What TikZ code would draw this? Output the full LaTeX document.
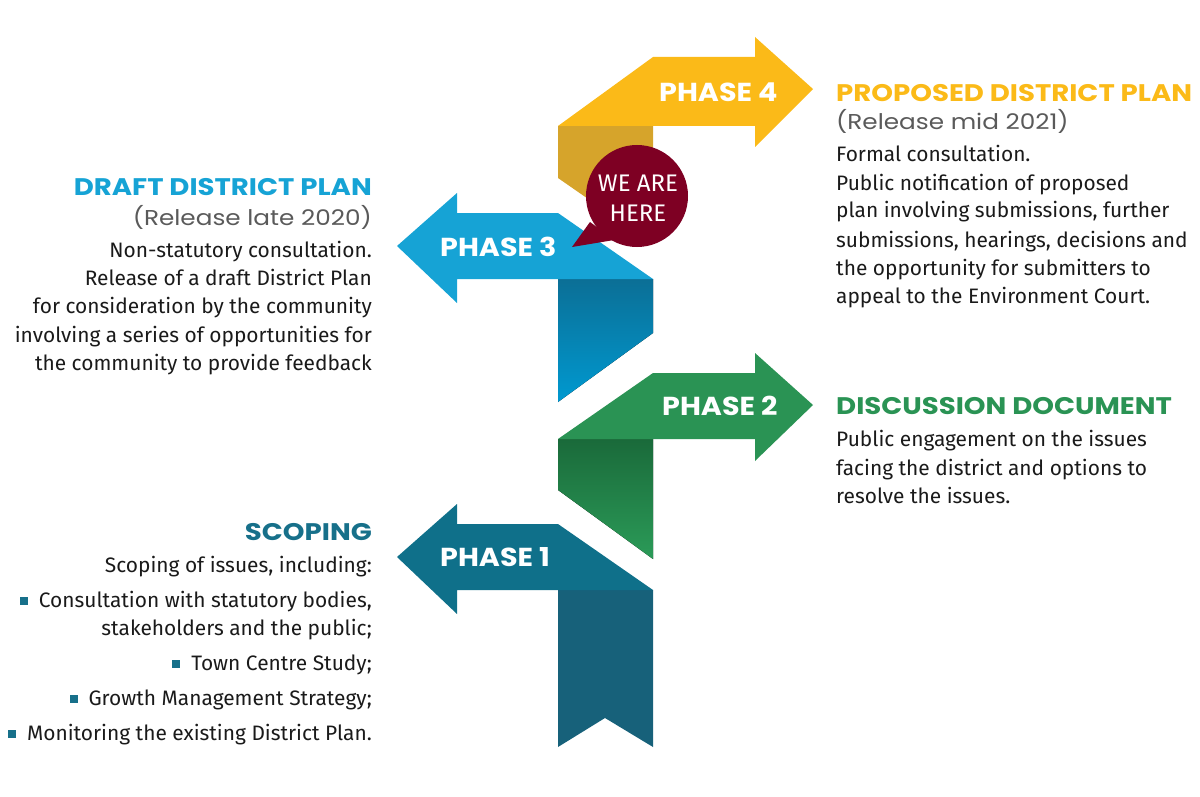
\documentclass[tikz,border=0pt]{standalone}
\usepackage{fontspec}
\setmainfont{Fira Sans}
\newfontfamily\headfont{Poppins}[FakeStretch=1.15]
\newfontfamily\phasefont{Poppins}[FakeStretch=1.1]
\definecolor{cyel}{HTML}{FBBA18}
\definecolor{cyeld}{HTML}{D6A42B}
\definecolor{cblue}{HTML}{16A3D5}
\definecolor{cbluetop}{HTML}{0B6F96}
\definecolor{cbluebot}{HTML}{0099D0}
\definecolor{cgreen}{HTML}{2A9354}
\definecolor{cgreentop}{HTML}{1A6A3A}
\definecolor{cgreenbot}{HTML}{2B9B58}
\definecolor{cteal}{HTML}{0F708A}
\definecolor{ctealhead}{HTML}{17708A}
\definecolor{ctealr}{HTML}{17617A}
\definecolor{cmaroon}{HTML}{7E0023}
\definecolor{cgray}{HTML}{5A5A5A}
\definecolor{cbody}{HTML}{1A1A1A}
\begin{document}
\begin{tikzpicture}[x=1pt,y=-1pt,
  heading/.style={inner sep=0pt,font=\headfont\bfseries\fontsize{24}{24}\selectfont},
  release/.style={inner sep=0pt,text=cgray,font=\headfont\fontsize{21.5}{21.5}\selectfont},
  body/.style={inner sep=0pt,text=cbody,font=\fontsize{20.9}{20.9}\selectfont},
  phaselbl/.style={inner sep=0pt,text=white,font=\phasefont\bfseries\fontsize{26}{26}\selectfont}]
\useasboundingbox (0,0) rectangle (1200,797);
\newcommand{\blt}{\textcolor{ctealhead}{\rule[2pt]{8pt}{8pt}}\hspace{11pt}}
% folds
\fill[cyeld] (558,126) -- (653,126) -- (653,244) -- (558,178) -- cycle;
\fill[top color=cbluetop,bottom color=cbluebot] (558,279) -- (653,279) -- (653,333) -- (558,402) -- cycle;
\fill[top color=cgreentop,bottom color=cgreenbot] (558,439) -- (653,439) -- (653,559) -- (558,490) -- cycle;
\fill[ctealr] (558,590) -- (653,590) -- (653,747) -- (605,718) -- (558,747) -- cycle;
% arrows
\fill[cyel] (813,89) -- (755,37) -- (755,57) -- (653,57) -- (558,126) -- (755,126) -- (755,147) -- cycle;
\fill[cblue] (397,246) -- (457,193) -- (457,213) -- (558,213) -- (653,279) -- (457,279) -- (457,303) -- cycle;
\fill[cgreen] (813,405) -- (755,353) -- (755,373) -- (653,373) -- (558,439) -- (755,439) -- (755,461) -- cycle;
\fill[cteal] (397,557) -- (457,504) -- (457,524) -- (558,524) -- (653,590) -- (457,590) -- (457,614) -- cycle;
% phase labels
\node[phaselbl,anchor=base west] (p4) at (659,102) {PHASE 4};
\node[phaselbl,anchor=base west] (p3) at (440,256) {PHASE 3};
\node[phaselbl,anchor=base west] (p2) at (662,415) {PHASE 2};
\node[phaselbl,anchor=base west] (p1) at (440,566) {PHASE 1};
% bubble
\fill[cmaroon] (572,247) -- (590,222) -- (614,240) -- cycle;
\fill[cmaroon] (637,196) circle (51);
\node[inner sep=0pt,text=white,font=\fontsize{24}{24}\selectfont,anchor=base] (we) at (638,192) {WE ARE};
\node[inner sep=0pt,text=white,font=\fontsize{24}{24}\selectfont,anchor=base] (here) at (638,222) {HERE};
% draft district plan
\node[heading,text=cblue,anchor=base east] (h3) at (372,195) {DRAFT DISTRICT PLAN};
\node[release,anchor=base east] (r3) at (372,225) {(Release late 2020)};
\node[body,anchor=base east] (b3a) at (372,257) {Non-statutory consultation.};
\node[body,anchor=base east] (b3b) at (372,285) {Release of a draft District Plan};
\node[body,anchor=base east] (b3c) at (372,313) {for consideration by the community};
\node[body,anchor=base east] (b3d) at (372,342) {involving a series of opportunities for};
\node[body,anchor=base east] (b3e) at (372,370) {the community to provide feedback};
% proposed district plan
\node[heading,text=cyel,anchor=base west] (h4) at (836,102) {PROPOSED DISTRICT PLAN};
\node[release,anchor=base west] (r4) at (836,130) {(Release mid 2021)};
\node[body,anchor=base west] (b4a) at (836,161) {Formal consultation.};
\node[body,anchor=base west] (b4b) at (836,190) {Public notification of proposed};
\node[body,anchor=base west] (b4c) at (836,218) {plan involving submissions, further};
\node[body,anchor=base west] (b4d) at (836,247) {submissions, hearings, decisions and};
\node[body,anchor=base west] (b4e) at (836,275) {the opportunity for submitters to};
\node[body,anchor=base west] (b4f) at (836,303) {appeal to the Environment Court.};
% discussion document
\node[heading,text=cgreen,anchor=base west] (h2) at (836,414) {DISCUSSION DOCUMENT};
\node[body,anchor=base west] (b2a) at (836,446) {Public engagement on the issues};
\node[body,anchor=base west] (b2b) at (836,475) {facing the district and options to};
\node[body,anchor=base west] (b2c) at (836,503) {resolve the issues.};
% scoping
\node[heading,text=ctealhead,anchor=base east] (h1) at (372,540) {SCOPING};
\node[body,anchor=base east] (b1a) at (372,572) {Scoping of issues, including:};
\node[body,anchor=base east] (b1b) at (372,607) {\blt Consultation with statutory bodies,};
\node[body,anchor=base east] (b1c) at (372,635) {stakeholders and the public;};
\node[body,anchor=base east] (b1d) at (372,670) {\blt Town Centre Study;};
\node[body,anchor=base east] (b1e) at (372,705) {\blt Growth Management Strategy;};
\node[body,anchor=base east] (b1f) at (372,740) {\blt Monitoring the existing District Plan.};
\end{tikzpicture}
\end{document}
